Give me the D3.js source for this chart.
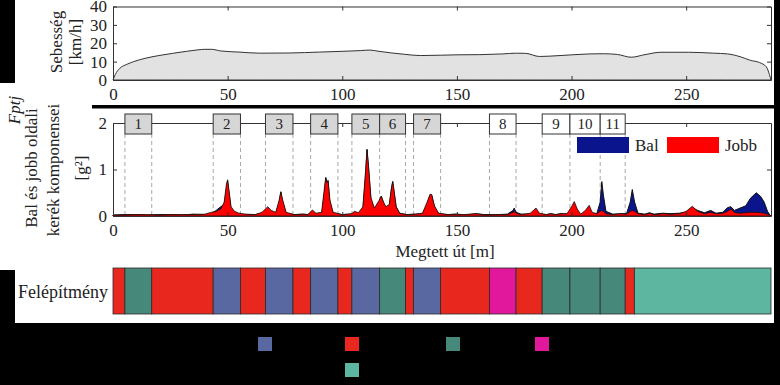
<!DOCTYPE html>
<html>
<head>
<meta charset="utf-8">
<script src="https://cdn.jsdelivr.net/npm/d3@7"></script>
<style>
	body { margin: 0; background: #fff; }
	svg { display: block; }
	text { font-family: 'Liberation Serif', 'DejaVu Serif', serif; }
</style>
</head>
<body>
<svg id="chart" width="780" height="385"></svg>
<script>
// speed profile (distance in m, speed in km/h)
const speedDist = [0, 1, 3, 6, 9, 14, 20, 26, 32, 37, 40, 43, 47, 55, 64, 77, 90, 100, 108, 112, 116, 121, 127, 134, 143, 150, 160, 170, 176, 180, 186, 195, 208, 214, 220, 226, 232, 239, 251, 262, 268, 274, 278, 282, 285, 286.3, 287]
const speedValues = [0, 3, 6.4, 8.5, 10, 11.8, 13.3, 14.5, 15.6, 16.4, 16.7, 16.7, 15.8, 15.2, 14.6, 14.7, 15.2, 15.6, 16, 16.3, 15.6, 14.8, 14, 13.3, 13.5, 13.7, 13.8, 14.2, 14.6, 14.5, 12.8, 13.3, 14.2, 14.3, 13.9, 12.4, 13.8, 15.1, 15.1, 14.6, 14.2, 12.5, 10.7, 9.5, 7.1, 3, 0]

// left / right wheel components (g^2)
const accDist = [0, 5, 10, 15, 20, 25, 30, 35, 40, 43, 45, 47, 48.5, 49.5, 50, 50.6, 51.5, 53, 55, 58, 62, 65, 67.5, 69, 71, 72.5, 73.2, 74, 75.5, 79, 83, 85, 87, 88.5, 91, 92.2, 92.8, 93.3, 93.8, 94.6, 96, 100, 104, 105.4, 107, 109, 110.2, 110.8, 111.5, 112.5, 114, 116, 117, 118, 119, 120.5, 121.5, 122, 122.6, 123.5, 125, 128, 132, 135, 137, 138.3, 139, 140.2, 142, 146, 149.7, 153, 158.4, 162, 168, 172, 174.5, 175, 175.8, 178, 182, 184.5, 186, 189, 191, 193, 195.4, 198, 200, 201.2, 202.5, 204, 206, 207.7, 209, 211, 212.5, 213.2, 213.9, 215, 218, 221.5, 224, 225.6, 226.5, 227.5, 229, 232, 234, 236, 239.7, 243, 247, 250, 252.7, 255, 258, 260.7, 263, 266, 268, 269.5, 271, 273, 276, 278, 280.6, 282.5, 284, 285.5, 286.5, 287]
const balValues = [0.02, 0.03, 0.03, 0.02, 0.03, 0.03, 0.02, 0.04, 0.03, 0.05, 0.12, 0.2, 0.25, 0.6, 0.75, 0.5, 0.15, 0.08, 0.04, 0.03, 0.03, 0.06, 0.15, 0.1, 0.06, 0.3, 0.52, 0.3, 0.06, 0.03, 0.04, 0.03, 0.1, 0.05, 0.05, 0.5, 0.82, 0.7, 0.75, 0.3, 0.06, 0.03, 0.04, 0.08, 0.05, 0.15, 0.9, 1.43, 1.0, 0.35, 0.15, 0.3, 0.42, 0.28, 0.18, 0.22, 0.6, 0.74, 0.5, 0.2, 0.06, 0.03, 0.04, 0.05, 0.25, 0.45, 0.45, 0.2, 0.05, 0.03, 0.04, 0.02, 0.05, 0.03, 0.03, 0.04, 0.12, 0.17, 0.08, 0.04, 0.04, 0.12, 0.04, 0.03, 0.05, 0.03, 0.05, 0.04, 0.08, 0.12, 0.05, 0.03, 0.06, 0.1, 0.05, 0.05, 0.3, 0.74, 0.45, 0.1, 0.04, 0.05, 0.05, 0.3, 0.57, 0.3, 0.06, 0.04, 0.07, 0.04, 0.06, 0.05, 0.06, 0.08, 0.18, 0.12, 0.07, 0.12, 0.06, 0.08, 0.18, 0.2, 0.12, 0.16, 0.22, 0.38, 0.5, 0.42, 0.3, 0.1, 0.02, 0]
const jobbValues = [0.02, 0.02, 0.03, 0.03, 0.02, 0.03, 0.03, 0.03, 0.04, 0.08, 0.1, 0.15, 0.3, 0.7, 0.78, 0.55, 0.2, 0.1, 0.06, 0.04, 0.03, 0.08, 0.2, 0.12, 0.08, 0.35, 0.52, 0.35, 0.08, 0.03, 0.04, 0.03, 0.13, 0.06, 0.08, 0.6, 0.83, 0.72, 0.77, 0.35, 0.08, 0.03, 0.05, 0.1, 0.07, 0.2, 1.0, 1.43, 1.05, 0.4, 0.17, 0.33, 0.43, 0.3, 0.2, 0.25, 0.62, 0.74, 0.55, 0.2, 0.06, 0.03, 0.04, 0.06, 0.3, 0.47, 0.46, 0.22, 0.06, 0.03, 0.04, 0.03, 0.05, 0.02, 0.03, 0.03, 0.08, 0.1, 0.06, 0.03, 0.06, 0.17, 0.06, 0.03, 0.05, 0.03, 0.05, 0.05, 0.2, 0.31, 0.15, 0.04, 0.12, 0.23, 0.08, 0.05, 0.1, 0.12, 0.1, 0.05, 0.03, 0.05, 0.04, 0.1, 0.12, 0.1, 0.05, 0.03, 0.06, 0.03, 0.05, 0.04, 0.05, 0.1, 0.21, 0.1, 0.05, 0.08, 0.05, 0.06, 0.1, 0.15, 0.08, 0.06, 0.07, 0.08, 0.08, 0.07, 0.06, 0.04, 0.02, 0]

// track sections (superstructure types)
const segBounds = [0, 5.2, 16.9, 43.7, 55.6, 66.5, 78.5, 86.2, 98.1, 104.2, 116.3, 127.6, 131.1, 142.9, 164.2, 175.8, 187.2, 199.3, 212.5, 223.4, 227.4, 287]
const segTypes = ['red', 'teal', 'red', 'blue', 'red', 'blue', 'red', 'blue', 'red', 'blue', 'teal', 'red', 'blue', 'red', 'magenta', 'red', 'teal', 'teal', 'teal', 'red', 'light']
const legendTypes = ['blue', 'red', 'teal', 'magenta', 'light']

const xTicks = [0, 50, 100, 150, 200, 250]
const speedTicks = [0, 10, 20, 30, 40]
const accTicks = [0, 1, 2]
const seriesNames = ['Bal', 'Jobb']

const typeColor = { red: '#e8281e', teal: '#46897a', blue: '#5a68a2', magenta: '#e2189c', light: '#5cb6a0' }
const font = "'Liberation Serif', 'DejaVu Serif', serif"

const svg = d3.select('#chart')

//Black page areas around the figure
const blackAreas = [
	[0, 0, 15, 83],
	[92, 105, 688, 3.5],
	[0, 270, 15, 115],
	[0, 323, 780, 62],
	[774, 0, 6, 385],
]
svg.selectAll('.bg').data(blackAreas).enter().append('rect')
	.attr('x', d => d[0]).attr('y', d => d[1]).attr('width', d => d[2]).attr('height', d => d[3])
	.attr('fill', '#000')

//Shared distance scale
const x = d3.scaleLinear().domain([0, 287]).range([113, 771])

//Draws the frame with inward ticks for one panel
function drawFrame(y, yTicks, top, bottom) {
	const left = x.range()[0], right = x.range()[1]
	const style = g => {
		g.select('.domain').attr('stroke', '#333')
		g.selectAll('.tick line').attr('stroke', '#333')
		g.selectAll('text').attr('fill', '#222').style('font-family', font).style('font-size', '17px')
	}
	svg.append('g').attr('transform', 'translate(0,' + bottom + ')')
		.call(d3.axisBottom(x).tickValues(xTicks).tickSize(-4).tickPadding(8).tickSizeOuter(0).tickFormat(d3.format('d'))).call(style)
	svg.append('g').attr('transform', 'translate(0,' + top + ')')
		.call(d3.axisTop(x).tickValues(xTicks).tickSize(-4).tickFormat('').tickSizeOuter(0)).call(style)
	svg.append('g').attr('transform', 'translate(' + left + ',0)')
		.call(d3.axisLeft(y).tickValues(yTicks).tickSize(-4).tickPadding(6).tickSizeOuter(0).tickFormat(d3.format('d'))).call(style)
	svg.append('g').attr('transform', 'translate(' + right + ',0)')
		.call(d3.axisRight(y).tickValues(yTicks).tickSize(-4).tickFormat('').tickSizeOuter(0)).call(style)
}

//Rotated axis title lines
function rotatedText(cx, cy, str, italic) {
	svg.append('text')
		.attr('transform', 'translate(' + cx + ',' + cy + ') rotate(-90)')
		.attr('text-anchor', 'middle')
		.attr('dy', '0.35em')
		.attr('fill', '#222')
		.style('font-size', '17px')
		.style('font-style', italic ? 'italic' : 'normal')
		.text(str)
}

// ---- speed panel ----
const ySpeed = d3.scaleLinear().domain([0, 40]).range([80, 6.5])
const speed = speedDist.map((d, i) => [d, speedValues[i]])

svg.append('path').datum(speed)
	.attr('fill', '#e2e2e2')
	.attr('stroke', '#333')
	.attr('stroke-width', 1)
	.attr('d', d3.area().x(d => x(d[0])).y0(ySpeed(0)).y1(d => ySpeed(d[1])).curve(d3.curveMonotoneX))

drawFrame(ySpeed, speedTicks, 6.5, 80)
rotatedText(56, 42, 'Sebesség')
rotatedText(75, 42, '[km/h]')

// ---- wheel component panel ----
const yAcc = d3.scaleLinear().domain([0, 2]).range([216, 123])
const acc = accDist.map((d, i) => ({ d: d, bal: balValues[i], jobb: jobbValues[i] }))

//Dashed section borders and numbered boxes
const boxes = []
segTypes.forEach((t, i) => {
	if (t != 'red' && t != 'light') boxes.push({ n: boxes.length + 1, a: segBounds[i], b: segBounds[i + 1] })
})

const edges = Array.from(new Set(boxes.flatMap(b => [b.a, b.b])))
svg.selectAll('.edge').data(edges).enter().append('line')
	.attr('x1', d => x(d)).attr('x2', d => x(d))
	.attr('y1', 134).attr('y2', 216)
	.attr('stroke', '#a8a8a8').attr('stroke-width', 1).attr('stroke-dasharray', '4,3')

svg.append('path').datum(acc)
	.attr('fill', '#0a148c').attr('stroke', '#111').attr('stroke-width', 1)
	.attr('d', d3.area().x(d => x(d.d)).y0(yAcc(0)).y1(d => yAcc(d.bal)))

svg.append('path').datum(acc)
	.attr('fill', '#ff0000').attr('stroke', '#111').attr('stroke-width', 0.8)
	.attr('d', d3.area().x(d => x(d.d)).y0(yAcc(0)).y1(d => yAcc(d.jobb)))

drawFrame(yAcc, accTicks, 123, 216)

const boxG = svg.selectAll('.box').data(boxes).enter().append('g')
boxG.append('rect')
	.attr('x', d => x(d.a)).attr('width', d => x(d.b) - x(d.a))
	.attr('y', 114).attr('height', 20)
	.attr('fill', d => (d.n <= 7 ? '#d6d6d6' : '#fff'))
	.attr('stroke', '#333').attr('stroke-width', 1)
boxG.append('text')
	.attr('x', d => (x(d.a) + x(d.b)) / 2).attr('y', 124).attr('dy', '0.35em')
	.attr('text-anchor', 'middle').attr('fill', '#222').style('font-size', '15px')
	.text(d => d.n)

//Legend
const legend = svg.append('g').attr('transform', 'translate(577,137)')
const legendItems = legend.selectAll('g').data(seriesNames).enter().append('g')
	.attr('transform', (d, i) => 'translate(' + i * 90 + ',0)')
legendItems.append('rect').attr('width', 52).attr('height', 16)
	.attr('fill', (d, i) => (i == 0 ? '#0a148c' : '#ff0000'))
legendItems.append('text').attr('x', 58).attr('y', 8).attr('dy', '0.35em')
	.attr('fill', '#222').style('font-size', '17px').text(d => d)

rotatedText(14, 110, 'Fptj', true)
rotatedText(31, 168, 'Bal és jobb oldali')
rotatedText(53, 170, 'kerék  komponensei')
rotatedText(81, 168, '[g²]')

svg.append('text').attr('x', 445).attr('y', 251).attr('dy', '0.35em')
	.attr('text-anchor', 'middle').attr('fill', '#222').style('font-size', '17px')
	.text('Megtett út [m]')

// ---- superstructure bar ----
const segs = segTypes.map((t, i) => ({ t: t, a: segBounds[i], b: segBounds[i + 1] }))
svg.selectAll('.seg').data(segs).enter().append('rect')
	.attr('x', d => x(d.a)).attr('width', d => x(d.b) - x(d.a))
	.attr('y', 268).attr('height', 46)
	.attr('fill', d => typeColor[d.t])
	.attr('stroke', '#2a2a2a').attr('stroke-width', 0.8)

svg.append('text').attr('x', 18).attr('y', 292).attr('dy', '0.35em')
	.attr('fill', '#222').style('font-size', '18px').text('Felépítmény')

//Bottom legend swatches (labels are black on black)
const swatchPos = [[258, 337], [345, 337], [446, 337], [535, 337], [345, 363]]
svg.selectAll('.sw').data(legendTypes).enter().append('rect')
	.attr('x', (d, i) => swatchPos[i][0]).attr('y', (d, i) => swatchPos[i][1])
	.attr('width', 14).attr('height', 14)
	.attr('fill', d => typeColor[d])
</script>
</body>
</html>
